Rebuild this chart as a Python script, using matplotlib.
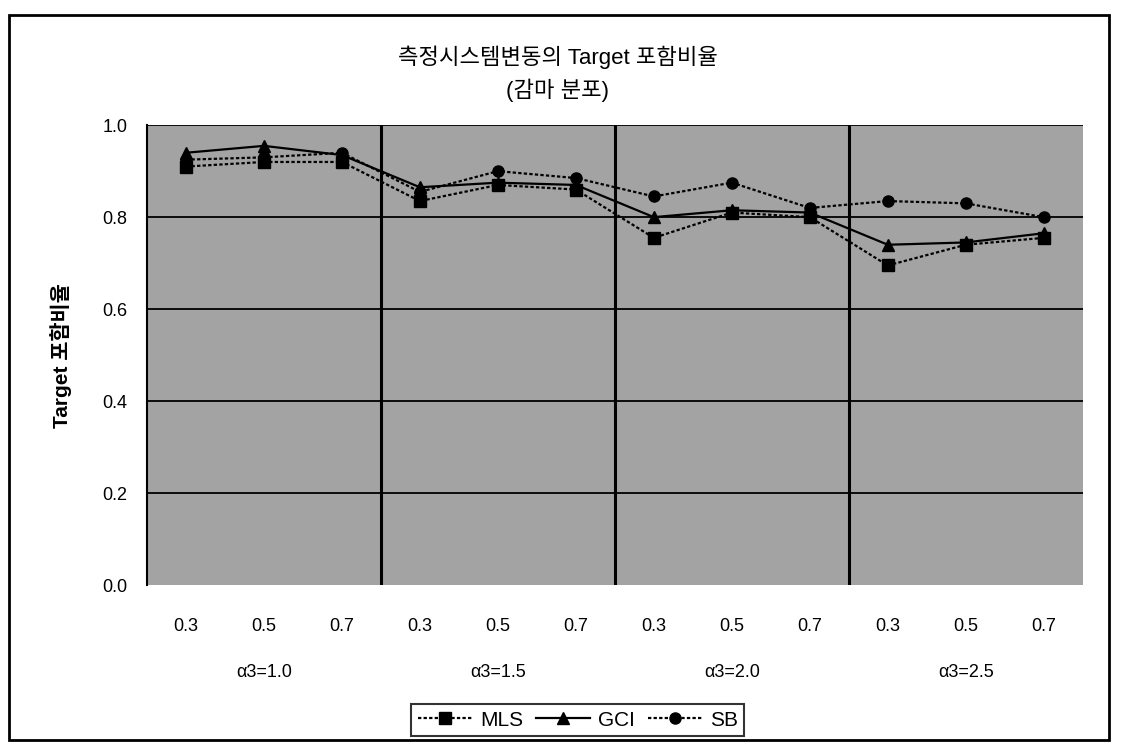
import matplotlib

matplotlib.use("Agg")
import matplotlib.pyplot as plt
from matplotlib.patches import Rectangle
import numpy as np

plt.rcParams['font.family'] = ['Liberation Sans', 'Noto Sans CJK KR', 'DejaVu Sans']

# data
gamma_levels = ["0.3", "0.5", "0.7"]
alpha_groups = ["α3=1.0", "α3=1.5", "α3=2.0", "α3=2.5"]
mls = [0.91, 0.92, 0.92, 0.835, 0.87, 0.86, 0.755, 0.81, 0.80, 0.695, 0.74, 0.755]
gci = [0.94, 0.955, 0.935, 0.865, 0.875, 0.87, 0.80, 0.815, 0.81, 0.74, 0.745, 0.765]
sb = [0.925, 0.93, 0.94, 0.855, 0.90, 0.885, 0.845, 0.875, 0.82, 0.835, 0.83, 0.80]
y_ticks = [0.0, 0.2, 0.4, 0.6, 0.8, 1.0]

fig = plt.figure(figsize=(11.22, 7.54), dpi=100)
ax = fig.add_axes([0.131, 0.224, 0.834, 0.610])
ax.set_facecolor("#a3a3a3")

x = np.arange(len(mls))
ax.plot(x, mls, color="black", lw=1.6, ls=(0, (1.5, 1)), marker="s", ms=8, label="MLS")
ax.plot(x, gci, color="black", lw=1.6, ls="-", marker="^", ms=9, label="GCI")
ax.plot(x, sb, color="black", lw=1.6, ls=(0, (1.5, 1)), marker="o", ms=8, label="SB")

ax.set_xlim(-0.5, len(mls) - 0.5)
ax.set_ylim(0, 1.0)
ax.set_yticks(y_ticks)
ax.set_yticklabels([f"{v:.1f}" for v in y_ticks], fontsize=13)
for v in y_ticks[1:]:
    ax.axhline(v, color="black", lw=1.3, zorder=1)
for b in [2.5, 5.5, 8.5]:
    ax.axvline(b, color="black", lw=2.2, zorder=1)

ax.set_xticks(x)
ax.set_xticklabels(gamma_levels * len(alpha_groups), fontsize=13)
ax.tick_params(axis="x", length=0, pad=24)
ax.tick_params(axis="y", length=0, pad=14)
for i, g in enumerate(alpha_groups):
    ax.text(3 * i + 1, -0.19, g, ha="center", va="center", fontsize=13,
            transform=ax.transData)
for s in ["top", "right", "bottom"]:
    ax.spines[s].set_visible(False)
ax.spines["left"].set_linewidth(1.5)

ax.set_ylabel("Target 포함비율", fontsize=15, fontweight="bold", labelpad=22)

fig.text(0.497, 0.924, "측정시스템변동의 Target 포함비율", ha="center", va="center",
         fontsize=16, fontweight="medium")
fig.text(0.497, 0.880, "(감마 분포)", ha="center", va="center", fontsize=16,
         fontweight="medium")

leg = fig.legend(loc="center", bbox_to_anchor=(0.515, 0.045), ncol=3, fontsize=15,
                 frameon=True, fancybox=False, edgecolor="black", handlelength=2.6,
                 columnspacing=0.6, handletextpad=0.4, borderpad=0.3)
leg.get_frame().set_linewidth(1.5)

fig.patches.append(Rectangle((0.008, 0.018), 0.98, 0.962, transform=fig.transFigure,
                             fill=False, edgecolor="black", lw=2))

fig.savefig("out.png", dpi=100)
